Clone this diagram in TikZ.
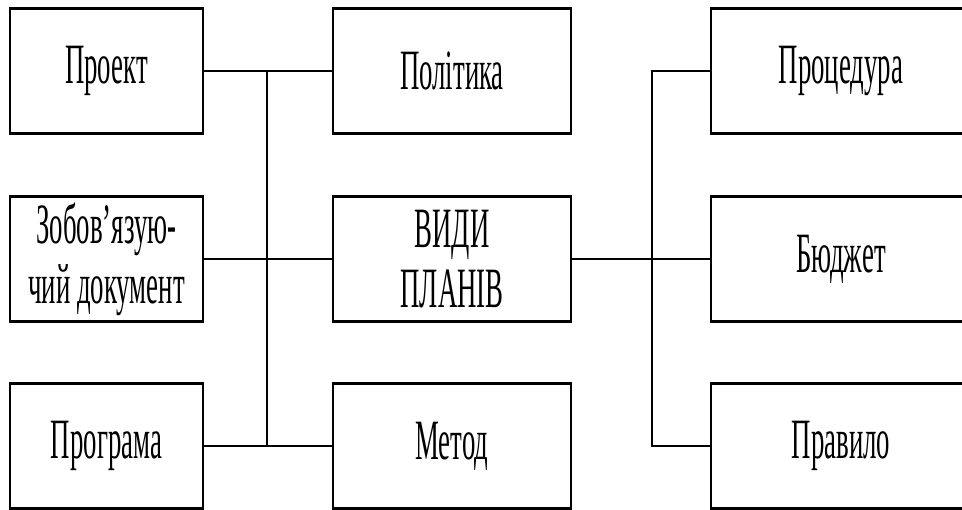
\documentclass[tikz,border=0pt]{standalone}
\usepackage{fontspec}
\newfontfamily\planfont[FakeStretch=0.47]{Liberation Serif}
\usetikzlibrary{positioning}

\begin{document}
\begin{tikzpicture}[x=1pt,y=-1pt,
  planbox/.style={draw, line width=2.2pt, rectangle, minimum height=125pt,
    inner sep=0pt, align=center, font=\planfont\fontsize{57}{60}\selectfont},
  link/.style={line width=2pt}]
\clip (0,0) rectangle (962,510);
\fill[white] (0,0) rectangle (962,510);
% Left column
\node[planbox, minimum width=193pt] (proekt) at (106.5,71) {Проект};
\node[planbox, minimum width=193pt] (zobov) at (106.5,259) {Зобов’язую-\\чий документ};
\node[planbox, minimum width=193pt] (programa) at (106.5,446) {Програма};
% Middle column
\node[planbox, minimum width=238pt] (polityka) at (452,71) {Політика};
\node[planbox, minimum width=238pt] (vydy) at (452,259) {ВИДИ\\ПЛАНІВ};
\node[planbox, minimum width=238pt] (metod) at (452,446) {Метод};
% Right column
\node[planbox, minimum width=260pt] (procedura) at (841,71) {Процедура};
\node[planbox, minimum width=260pt] (budzhet) at (841,259) {Бюджет};
\node[planbox, minimum width=260pt] (pravylo) at (841,446) {Правило};
% Buses
\coordinate (lbus) at (267,0);
\coordinate (rbus) at (652,0);
\draw[link] (proekt.east) -- (polityka.west);
\draw[link] (zobov.east) -- (vydy.west);
\draw[link] (programa.east) -- (metod.west);
\draw[link] (proekt.east -| lbus) -- (programa.east -| lbus);
\draw[link] (vydy.east) -- (budzhet.west);
\draw[link] (procedura.west) -- (procedura.west -| rbus) -- (pravylo.west -| rbus) -- (pravylo.west);
\end{tikzpicture}
\end{document}
